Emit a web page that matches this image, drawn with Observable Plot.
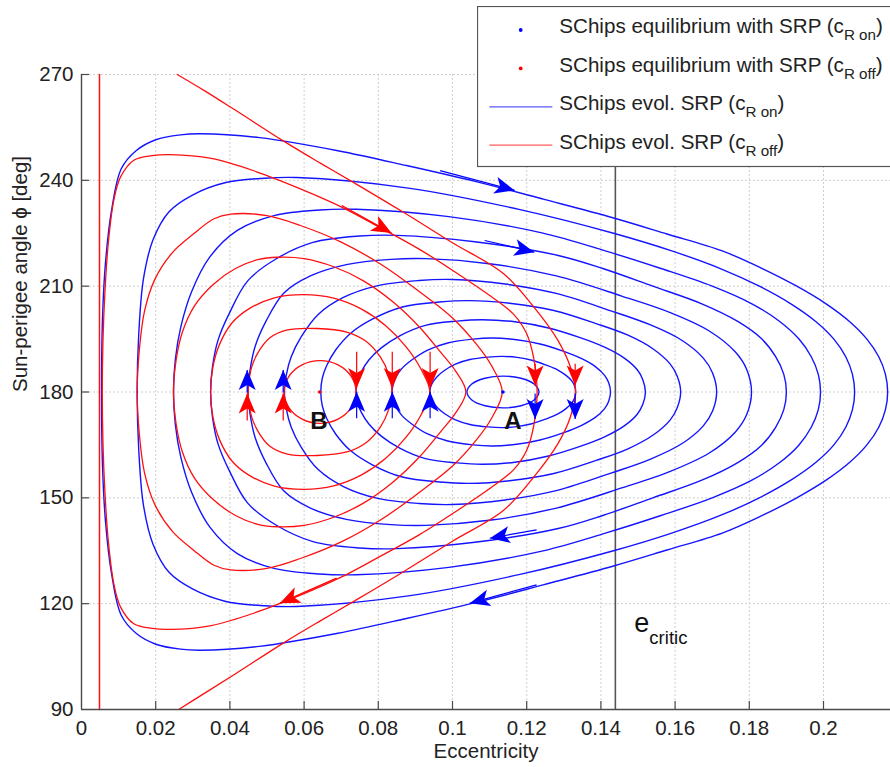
<!DOCTYPE html>
<html>
<head>
<meta charset="utf-8">
<script src="https://cdn.jsdelivr.net/npm/d3@7"></script>
<script src="https://cdn.jsdelivr.net/npm/@observablehq/plot@0.6"></script>
<style>
  body { margin: 0; background: #fff; overflow: hidden; }
  #wrap { position: relative; width: 890px; height: 767px; overflow: hidden; }
</style>
</head>
<body>
<div id="wrap"></div>
<script>
// Phase-space trajectories: [eccentricity, sun-perigee angle (deg)]
// Evolution with SRP (c_R on): closed orbits around equilibrium A
const blueOrbit1 = [[0.0054,180],[0.00567,201.2],[0.00646,216.6],[0.00806,231.2],[0.01072,243.3],[0.01471,248.4],[0.02003,251.5],[0.02668,252.9],[0.032,253.2],[0.048,252.1],[0.0691,248.4],[0.0876,244.2],[0.1061,239.7],[0.1247,234.6],[0.1432,229.4],[0.1578,224.8],[0.1727,220],[0.1835,215],[0.1928,210],[0.2007,205],[0.207,200],[0.2117,195],[0.2149,190],[0.2167,185],[0.2173,180],[0.2167,175],[0.2149,170],[0.2117,165],[0.207,160],[0.2007,155],[0.1928,150],[0.1835,145],[0.1727,140],[0.1578,135.2],[0.1432,130.6],[0.1247,125.4],[0.1061,120.3],[0.0876,115.8],[0.0691,111.6],[0.048,107.9],[0.032,106.8],[0.02668,107.1],[0.02003,108.5],[0.01471,111.6],[0.01072,116.7],[0.00806,128.8],[0.00646,143.4],[0.00567,158.8]];
const blueOrbit2 = [[0.015,180],[0.01543,196.4],[0.01672,212.2],[0.0193,223.2],[0.0236,231.1],[0.03005,235.9],[0.03865,239.3],[0.0494,240.6],[0.058,240.8],[0.0881,237.8],[0.1182,231.7],[0.1434,225],[0.1591,220],[0.1722,215],[0.1827,210],[0.1912,205],[0.1979,200],[0.2028,195],[0.206,190],[0.2078,185],[0.2084,180],[0.2078,175],[0.206,170],[0.2028,165],[0.1979,160],[0.1912,155],[0.1827,150],[0.1722,145],[0.1591,140],[0.1434,135],[0.1182,128.3],[0.0881,122.2],[0.058,119.2],[0.0494,119.4],[0.03865,120.7],[0.03005,124.1],[0.0236,128.9],[0.0193,136.8],[0.01672,147.8],[0.01543,163.6]];
const blueOrbit3 = [[0.0248,180],[0.0253,189.3],[0.0268,198.6],[0.0297,208.5],[0.0346,218.3],[0.042,225.8],[0.0519,230.0],[0.0642,231.6],[0.074,231.8],[0.099,229.7],[0.1241,225.1],[0.1412,220],[0.1562,215],[0.17,210],[0.1807,205],[0.1882,200],[0.1934,195],[0.1967,190],[0.1986,185],[0.1992,180],[0.1986,175],[0.1967,170],[0.1934,165],[0.1882,160],[0.1807,155],[0.17,150],[0.1562,145],[0.1412,140],[0.1241,134.9],[0.099,130.3],[0.074,128.2],[0.0642,128.4],[0.0519,130.0],[0.042,134.2],[0.0346,141.7],[0.0297,151.5],[0.0268,161.4],[0.0253,170.7]];
const blueOrbit4 = [[0.0348,180],[0.0353,187.1],[0.0368,194.7],[0.0398,202.2],[0.0448,211.5],[0.0524,217.7],[0.0624,222.4],[0.075,224.2],[0.085,224.4],[0.106,222.6],[0.1285,218.7],[0.1405,215],[0.154,210],[0.1672,205],[0.1769,200],[0.1834,195],[0.1871,190],[0.1893,185],[0.19,180],[0.1893,175],[0.1871,170],[0.1834,165],[0.1769,160],[0.1672,155],[0.154,150],[0.1405,145],[0.1285,141.3],[0.106,137.4],[0.085,135.6],[0.075,135.8],[0.0624,137.6],[0.0524,142.3],[0.0448,148.5],[0.0398,157.8],[0.0368,165.3],[0.0353,172.9]];
const blueOrbit5 = [[0.0449,180],[0.0454,186.0],[0.0468,192.9],[0.0497,200.0],[0.0545,208.0],[0.0617,212.9],[0.0714,216.1],[0.0834,217.6],[0.093,217.8],[0.1105,216.3],[0.128,212.9],[0.1456,207.2],[0.1587,202.5],[0.1692,197.3],[0.1762,191.4],[0.1793,186.4],[0.1806,180],[0.1793,173.6],[0.1762,168.6],[0.1692,162.7],[0.1587,157.5],[0.1456,152.8],[0.128,147.1],[0.1105,143.7],[0.093,142.2],[0.0834,142.4],[0.0714,143.9],[0.0617,147.1],[0.0545,152.0],[0.0497,160.0],[0.0468,167.1],[0.0454,174.0]];
const blueOrbit6 = [[0.0547,180],[0.0552,184.8],[0.0565,189.9],[0.0592,195.6],[0.0638,202.0],[0.0706,206.8],[0.0796,210.1],[0.0909,211.6],[0.100,211.9],[0.1142,210.6],[0.1285,207.8],[0.1427,203.0],[0.1534,199.0],[0.1619,194.6],[0.1676,189.6],[0.1701,185.4],[0.1712,180],[0.1701,174.6],[0.1676,170.4],[0.1619,165.4],[0.1534,161.0],[0.1427,157.0],[0.1285,152.2],[0.1142,149.4],[0.100,148.1],[0.0909,148.4],[0.0796,149.9],[0.0706,153.2],[0.0638,158.0],[0.0592,164.4],[0.0565,170.1],[0.0552,175.2]];
const blueOrbit7 = [[0.0645,180],[0.0649,183.9],[0.0661,187.5],[0.0685,191.9],[0.0725,196.6],[0.0785,200.7],[0.0865,204.1],[0.0965,205.5],[0.1045,205.9],[0.1159,205.1],[0.1273,203.1],[0.1387,199.4],[0.1473,196.1],[0.1541,192.2],[0.1587,187.9],[0.1606,184.4],[0.1615,180],[0.1606,175.6],[0.1587,172.1],[0.1541,167.8],[0.1473,163.9],[0.1387,160.6],[0.1273,156.9],[0.1159,154.9],[0.1045,154.1],[0.0965,154.5],[0.0865,155.9],[0.0785,159.3],[0.0725,163.4],[0.0685,168.1],[0.0661,172.5],[0.0649,176.1]];
const blueOrbit8 = [[0.074,180],[0.0743,182.9],[0.0754,185.7],[0.0774,189.0],[0.0808,192.5],[0.0859,196.0],[0.0927,198.9],[0.1012,200.1],[0.108,200.5],[0.1168,199.9],[0.1256,198.2],[0.1344,195.4],[0.141,192.7],[0.1463,189.6],[0.1498,186.3],[0.1513,183.5],[0.152,180],[0.1513,176.5],[0.1498,173.7],[0.1463,170.4],[0.141,167.3],[0.1344,164.6],[0.1256,161.8],[0.1168,160.1],[0.108,159.5],[0.1012,159.9],[0.0927,161.1],[0.0859,164.0],[0.0808,167.5],[0.0774,171.0],[0.0754,174.3],[0.0743,177.1]];
const blueOrbit9 = [[0.0837,180],[0.084,182.1],[0.0848,184.3],[0.0864,186.7],[0.0892,189.2],[0.0933,191.9],[0.0987,193.9],[0.1055,195.0],[0.111,195.3],[0.1173,194.8],[0.1236,193.6],[0.13,191.5],[0.1347,189.5],[0.1385,187.2],[0.141,184.7],[0.1421,182.6],[0.1426,180],[0.1421,177.4],[0.141,175.3],[0.1385,172.8],[0.1347,170.5],[0.13,168.5],[0.1236,166.4],[0.1173,165.2],[0.111,164.7],[0.1055,165.0],[0.0987,166.1],[0.0933,168.1],[0.0892,170.8],[0.0864,173.3],[0.0848,175.7],[0.084,177.9]];
const blueOrbit10 = [[0.0939,180],[0.0941,181.4],[0.0947,182.8],[0.0959,184.4],[0.0978,186.1],[0.1008,187.9],[0.1047,189.2],[0.1096,189.9],[0.1135,190.1],[0.1174,189.8],[0.1214,189.0],[0.1253,187.6],[0.1283,186.3],[0.1306,184.7],[0.1322,183.1],[0.1329,181.7],[0.1332,180],[0.1329,178.3],[0.1322,176.9],[0.1306,175.3],[0.1283,173.7],[0.1253,172.4],[0.1214,171.0],[0.1174,170.2],[0.1135,169.9],[0.1096,170.1],[0.1047,170.8],[0.1008,172.1],[0.0978,173.9],[0.0959,175.6],[0.0947,177.2],[0.0941,178.6]];
const blueOrbit11 = [[0.1039,180],[0.1052,182.25],[0.10875,183.9],[0.1136,184.5],[0.11845,183.9],[0.122,182.25],[0.1233,180],[0.122,177.75],[0.11845,176.1],[0.1136,175.5],[0.10875,176.1],[0.1052,177.75]];

// Evolution without SRP (c_R off): closed orbits around equilibrium B
const redOrbit1 = [[0.0056,180],[0.0058,195],[0.0063,208],[0.0072,222],[0.0087,234.3],[0.0105,240.9],[0.0141,245.7],[0.019,247],[0.024,247.3],[0.035,246.2],[0.047,242.5],[0.059,237.6],[0.07,232.5],[0.0805,226.6],[0.091,220.5],[0.1013,213.6],[0.1105,207],[0.1165,202],[0.12,196.5],[0.1219,189.5],[0.1228,180],[0.1219,170.5],[0.12,163.5],[0.1165,158],[0.1105,153],[0.1013,146.4],[0.091,139.5],[0.0805,133.4],[0.07,127.5],[0.059,122.4],[0.047,117.5],[0.035,113.8],[0.024,112.7],[0.019,113],[0.0141,114.3],[0.0105,119.1],[0.0087,125.7],[0.0072,138],[0.0063,152],[0.0058,165]];
const redOrbit2 = [[0.015,180],[0.0156,192],[0.017,203],[0.0198,212],[0.0245,219.5],[0.0303,224.9],[0.0357,229.1],[0.0402,230.4],[0.05,230],[0.059,227.2],[0.07,222.5],[0.081,216],[0.091,208.5],[0.1,201],[0.1065,193.5],[0.1105,187.5],[0.1134,180],[0.1105,172.5],[0.1065,166.5],[0.1,159],[0.091,151.5],[0.081,144],[0.07,137.5],[0.059,132.8],[0.05,130],[0.0402,129.6],[0.0357,130.9],[0.0303,135.1],[0.0245,140.5],[0.0198,148],[0.017,157],[0.0156,168]];
const redOrbit3 = [[0.0248,180],[0.0255,189],[0.0272,197],[0.0305,204.5],[0.0355,210.5],[0.0415,215],[0.0475,217.5],[0.053,218.2],[0.06,217.8],[0.068,215.5],[0.076,211.5],[0.084,205.5],[0.091,198.5],[0.097,191],[0.1008,186],[0.1036,180],[0.1008,174],[0.097,169],[0.091,161.5],[0.084,154.5],[0.076,148.5],[0.068,144.5],[0.06,142.2],[0.053,141.8],[0.0475,142.5],[0.0415,145],[0.0355,149.5],[0.0305,155.5],[0.0272,163],[0.0255,171]];
const redOrbit4 = [[0.0348,180],[0.0354,187],[0.0372,193.5],[0.0405,199.5],[0.045,203.5],[0.052,206.7],[0.06,207.6],[0.068,206.6],[0.0755,203.5],[0.082,198.8],[0.0875,192.8],[0.0915,186.5],[0.0939,180],[0.0915,173.5],[0.0875,167.2],[0.082,161.2],[0.0755,156.5],[0.068,153.4],[0.06,152.4],[0.052,153.3],[0.045,156.5],[0.0405,160.5],[0.0372,166.5],[0.0354,173]];
const redOrbit5 = [[0.0449,180],[0.0457,186.5],[0.0475,191],[0.0507,195.3],[0.0555,197.6],[0.0635,198],[0.0715,197],[0.0765,194.5],[0.0805,190],[0.0828,185],[0.0837,180],[0.0828,175],[0.0805,170],[0.0765,165.5],[0.0715,163],[0.0635,162],[0.0555,162.4],[0.0507,164.7],[0.0475,169],[0.0457,173.5]];
const redOrbit6 = [[0.0546,180],[0.0559,184.45],[0.05945,187.7],[0.0643,188.9],[0.06915,187.7],[0.0727,184.45],[0.074,180],[0.0727,175.55],[0.06915,172.3],[0.0643,171.1],[0.05945,172.3],[0.0559,175.55]];
// Open trajectory crossing the whole angle range, and the near-circular limit
const redSeparatrix = [[0.0258,270],[0.033,265.5],[0.041,260.2],[0.0545,251.1],[0.0645,244.8],[0.0743,238.8],[0.087,230.8],[0.1,222.3],[0.1137,213.6],[0.122,204],[0.1285,194.5],[0.1318,187],[0.1332,180],[0.1318,173],[0.1285,165.5],[0.122,156],[0.1137,146.4],[0.1,137.7],[0.087,129.2],[0.0743,121.2],[0.0645,115.2],[0.0545,108.9],[0.041,99.8],[0.033,94.5],[0.0262,90]];
const redLimit = [[0.00485,90],[0.00485,270]];

// Equilibria
const equilibriumOn = [[0.1136,180]];
const equilibriumOff = [[0.0642,180]];
const pointLabels = [[0.1163,171.6,"A"],[0.0640,171.6,"B"]];
const eCritic = 0.1439;

// Flow-direction arrows: [tail e, tail phi, tip e, tip phi]
const blueArrows = [[0.0968,242.6,0.1169,237.0],[0.1088,222.8,0.1222,219.5],[0.1228,140.8,0.1102,138.4],[0.1228,125.2,0.1048,120.0],
  [0.0448,179.7,0.0448,186.1],[0.0545,179.7,0.0545,186.1],[0.0743,172.4,0.0743,179.9],[0.0839,172.4,0.0839,179.9],[0.0941,172.4,0.0941,179.9],
  [0.1224,179.4,0.1224,172.2],[0.1332,179.4,0.1332,172.2]];
const redArrows = [[0.0703,232.7,0.0837,224.9],[0.0689,127.1,0.0536,120.0],
  [0.0448,171.8,0.0448,179.4],[0.0545,171.8,0.0545,179.4],[0.0743,191.3,0.0743,181.0],[0.0839,191.3,0.0839,181.0],[0.0941,191.3,0.0941,181.0],
  [0.1224,187.9,0.1224,181.7],[0.1332,187.9,0.1332,181.7]];

const xTicks = [0,0.02,0.04,0.06,0.08,0.1,0.12,0.14,0.16,0.18,0.2];
const yTicks = [90,120,150,180,210,240,270];

const BLUE = "#1414ff", RED = "#ff1010", AXIS = "#4a4a4a";
const FONT = "'Liberation Sans', Arial, Helvetica, sans-serif";

const toRows = (curves) => curves.flatMap((c, id) => c.map(([e, phi]) => ({e, phi, id})));
const blueRows = toRows([blueOrbit1, blueOrbit2, blueOrbit3, blueOrbit4, blueOrbit5, blueOrbit6, blueOrbit7, blueOrbit8, blueOrbit9, blueOrbit10, blueOrbit11]);
const redRows = toRows([redOrbit1, redOrbit2, redOrbit3, redOrbit4, redOrbit5, redOrbit6]);

// Arrow glyphs: a thin shaft from tail to tip and a notched filled head at the tip
function arrowMark(list, color) {
  return (index, scales) => {
    const g = d3.create("svg:g");
    for (const [e0, p0, e1, p1] of list) {
      const x0 = scales.x(e0), y0 = scales.y(p0), x1 = scales.x(e1), y1 = scales.y(p1);
      const ang = Math.atan2(y1 - y0, x1 - x0) * 180 / Math.PI;
      g.append("line").attr("x1", x0).attr("y1", y0).attr("x2", x1).attr("y2", y1)
        .attr("stroke", color).attr("stroke-width", 1.2);
      g.append("path").attr("d", "M0,0L-20,-8.5L-15,0L-20,8.5Z")
        .attr("transform", `translate(${x1},${y1}) rotate(${ang})`)
        .attr("fill", color);
    }
    return g.node();
  };
}

const px = d => d[0], py = d => d[1];

const chart = Plot.plot({
  width: 890,
  height: 767,
  marginLeft: 81,
  marginRight: 0,
  marginTop: 74,
  marginBottom: 58,
  style: {fontFamily: FONT, fontSize: "20.5px", background: "#fff", color: "#222"},
  x: {domain: [0, 0.21806], ticks: xTicks, tickSize: 0, tickPadding: 11, tickFormat: d => String(+d.toFixed(2)), label: null},
  y: {domain: [90, 270], ticks: yTicks, tickSize: 0, tickPadding: 8, label: null},
  marks: [
    Plot.ruleX(xTicks.slice(1), {stroke: "#cfcfcf", strokeDasharray: "2,2"}),
    Plot.ruleY(yTicks.slice(1), {stroke: "#cfcfcf", strokeDasharray: "2,2"}),
    Plot.ruleX([eCritic], {stroke: "#555", strokeWidth: 1.6}),
    Plot.line(blueRows, {x: "e", y: "phi", z: "id", curve: "catmull-rom-closed", stroke: BLUE, strokeWidth: 1.4}),
    Plot.line(redRows, {x: "e", y: "phi", z: "id", curve: "catmull-rom-closed", stroke: RED, strokeWidth: 1.3}),
    Plot.line(redSeparatrix, {x: px, y: py, curve: "catmull-rom", stroke: RED, strokeWidth: 1.3}),
    Plot.line(redLimit, {x: px, y: py, stroke: RED, strokeWidth: 1.5}),
    arrowMark(blueArrows, "#0000ff"),
    arrowMark(redArrows, "#ff0000"),
    Plot.dot(equilibriumOn, {x: px, y: py, r: 1.8, fill: "#0000ff"}),
    Plot.dot(equilibriumOff, {x: px, y: py, r: 1.8, fill: "#ff0000"}),
    Plot.text(pointLabels, {x: px, y: py, text: d => d[2], fontSize: 24, fontWeight: "bold", fill: "#111", textAnchor: "middle", lineAnchor: "middle"}),
    Plot.text([[eCritic, 112.1]], {x: px, y: py, text: () => "e", dx: 19, fontSize: 27, textAnchor: "start", lineAnchor: "bottom", fill: "#111"}),
    Plot.text([[eCritic, 112.1]], {x: px, y: py, text: () => "critic", dx: 34, dy: 12, fontSize: 18.5, textAnchor: "start", lineAnchor: "bottom", fill: "#111"}),
    Plot.text(["Eccentricity"], {frameAnchor: "bottom", dy: 48, lineAnchor: "bottom", fill: "#222"}),
    Plot.text(["Sun-perigee angle \u03d5 [deg]"], {frameAnchor: "left", dx: -61, rotate: -90, lineAnchor: "middle", fill: "#222"}),
    Plot.ruleX([0], {stroke: AXIS, strokeWidth: 1.4}),
    Plot.ruleY([90], {stroke: AXIS, strokeWidth: 1.4}),
    Plot.tickX(xTicks.slice(1), {x: d => d, insetTop: 627, stroke: AXIS, strokeWidth: 1.2}),
    Plot.tickY(yTicks.slice(1), {y: d => d, insetRight: 801, stroke: AXIS, strokeWidth: 1.2})
  ]
});

const wrap = document.getElementById("wrap");
wrap.appendChild(chart);

// Legend box in the upper right corner
const legendItems = [
  {kind: "dot", color: "#0000ff", text: "SChips equilibrium with SRP (c", sub: "R on"},
  {kind: "dot", color: "#ff0000", text: "SChips equilibrium with SRP (c", sub: "R off"},
  {kind: "line", color: "#5a5aff", text: "SChips evol. SRP (c", sub: "R on"},
  {kind: "line", color: "#ff5a5a", text: "SChips evol. SRP (c", sub: "R off"}
];
const lg = d3.create("svg").attr("width", 413).attr("height", 162)
  .style("position", "absolute").style("left", "477px").style("top", "6px")
  .style("font-family", FONT);
lg.append("rect").attr("x", 0.5).attr("y", 0.5).attr("width", 430).attr("height", 160)
  .attr("fill", "#fff").attr("stroke", "#555").attr("stroke-width", 1.2);
legendItems.forEach((d, i) => {
  const base = 27.3 + i * 38.4;
  if (d.kind === "dot") {
    lg.append("circle").attr("cx", 43.7).attr("cy", base - 3.3).attr("r", 1.9).attr("fill", d.color);
  } else {
    lg.append("line").attr("x1", 12.3).attr("x2", 75.3).attr("y1", base - 3.3).attr("y2", base - 3.3)
      .attr("stroke", d.color).attr("stroke-width", 1.3);
  }
  const t = lg.append("text").attr("x", 82.3).attr("y", base).attr("font-size", 20.6).attr("fill", "#222");
  t.append("tspan").text(d.text);
  t.append("tspan").attr("font-size", 15.2).attr("dy", 7).text(d.sub);
  t.append("tspan").attr("dy", -7).text(")");
});
wrap.appendChild(lg.node());
</script>
</body>
</html>
